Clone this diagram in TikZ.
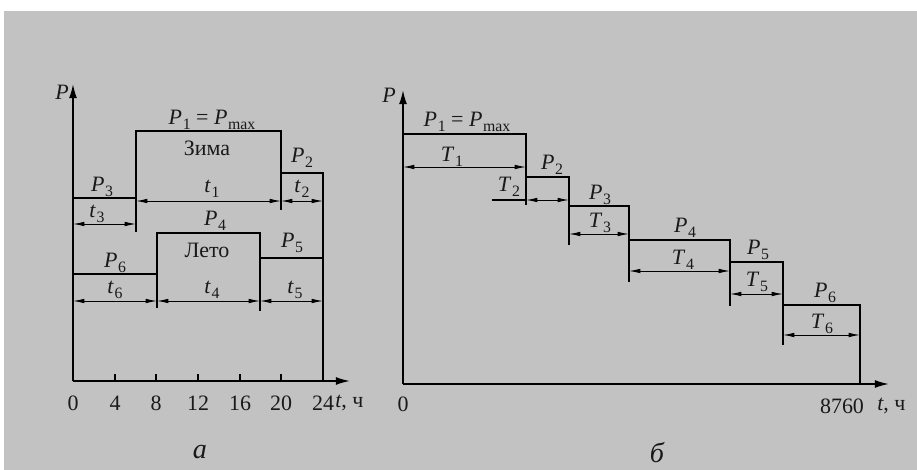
\documentclass[tikz,border=0pt]{standalone}
\usepackage{fontspec}
\setmainfont{Liberation Serif}
\usetikzlibrary{arrows.meta}

\newcommand{\sub}[2]{\textit{#1}\kern0.03em\raisebox{-0.45ex}{\fontsize{9}{9}\selectfont #2}}

\tikzset{
	step line/.style={line width=1.3pt, line cap=rect},
	axis line/.style={line width=0.9pt, -{Latex[length=8pt,width=4.5pt]}},
	dim line/.style={line width=0.5pt, {Latex[length=6.5pt,width=2.6pt]}-{Latex[length=6.5pt,width=2.6pt]}},
	ext line/.style={line width=0.6pt},
	lab/.style={inner sep=0pt, font=\fontsize{12.5}{12.5}\selectfont, text=black!90},
	caption lab/.style={inner sep=0pt, font=\fontsize{16}{16}\selectfont\itshape, text=black!90},
}

\begin{document}
\begin{tikzpicture}[x=0.02cm, y=-0.02cm]
		\useasboundingbox (0,0) rectangle (917,470);
		\fill[white] (0,0) rectangle (917,470);
		\fill[black!24] (4,11) rectangle (917,470);

		% a: daily curves
		\draw[axis line](73,381)--(73,84);
		\draw[axis line](73,381)--(350,381);
		\foreach \x/\t in {73/0, 115/4, 156/8, 198/12, 240/16, 281/20, 323/24}{
			\draw[ext line](\x,381)--(\x,374);
			\node[lab] at (\x,403){\t};
		}
		\node[lab] (Pa) at (62,92){\textit{P}};
		\node[lab, anchor=west] (ta) at (335,403){\textit{t}, ч};
		% winter
		\draw[step line](73,198)--(136,198)--(136,131)--(281,131)--(281,173)--(323,173)--(323,381);
		\draw[ext line](136,198)--(136,232);
		\draw[ext line](281,173)--(281,210);
		\draw[dim line](73,224)--(136,224);
		\draw[dim line](136,201)--(281,201);
		\draw[dim line](281,201)--(323,201);
		\node[lab] (P1a) at (212,120){\sub{P}{1} = \sub{P}{max}};
		\node[lab] (zima) at (207,148){Зима};
		\node[lab] (P2a) at (302,158){\sub{P}{2}};
		\node[lab] (P3a) at (102,187){\sub{P}{3}};
		\node[lab] (t1a) at (212,189){\sub{t}{1}};
		\node[lab] (t2a) at (302,189){\sub{t}{2}};
		\node[lab] (t3a) at (97,214){\sub{t}{3}};
		% summer
		\draw[step line](73,274)--(157,274)--(157,233)--(260,233)--(260,258)--(323,258);
		\draw[ext line](157,274)--(157,308);
		\draw[ext line](260,258)--(260,311);
		\draw[dim line](73,301)--(157,301);
		\draw[dim line](157,301)--(260,301);
		\draw[dim line](260,301)--(323,301);
		\node[lab] (P4a) at (215,221){\sub{P}{4}};
		\node[lab] (leto) at (207,250){Лето};
		\node[lab] (P5a) at (292,243){\sub{P}{5}};
		\node[lab] (P6a) at (115,263){\sub{P}{6}};
		\node[lab] (t6a) at (115,290){\sub{t}{6}};
		\node[lab] (t4a) at (212,290){\sub{t}{4}};
		\node[lab] (t5a) at (295,290){\sub{t}{5}};
		\node[caption lab] (capa) at (200,452){а};

		% b: annual curve
		\draw[axis line](403,384)--(403,90);
		\draw[axis line](403,384)--(889,384);
		\draw[ext line](860,384)--(860,377);
		\node[lab] (Pb) at (389,95){\textit{P}};
		\node[lab] (zero) at (403,404){0};
		\node[lab] (year) at (842,406){8760};
		\node[lab, anchor=west] (tb) at (877,406){\textit{t}, ч};
		\draw[step line](403,134)--(526,134)--(526,177)--(569,177)--(569,206)--(629,206)--(629,240)
			--(730,240)--(730,262)--(783,262)--(783,305)--(860,305)--(860,384);
		\draw[ext line](526,177)--(526,205);
		\draw[ext line](569,206)--(569,245);
		\draw[ext line](629,240)--(629,282);
		\draw[ext line](730,262)--(730,306);
		\draw[ext line](783,305)--(783,345);
		\draw[dim line](403,167)--(526,167);
		\draw[ext line](492,200)--(526,200);
		\draw[dim line](526,200)--(569,200);
		\draw[dim line](569,234)--(629,234);
		\draw[dim line](629,271)--(730,271);
		\draw[dim line](730,294)--(783,294);
		\draw[dim line](783,335)--(860,335);
		\node[lab] (P1b) at (467,122){\sub{P}{1} = \sub{P}{max}};
		\node[lab] (T1b) at (452,157){\sub{T}{1}};
		\node[lab] (P2b) at (552,165){\sub{P}{2}};
		\node[lab] (T2b) at (509,187){\sub{T}{2}};
		\node[lab] (P3b) at (600,195){\sub{P}{3}};
		\node[lab] (T3b) at (600,223){\sub{T}{3}};
		\node[lab] (P4b) at (685,228){\sub{P}{4}};
		\node[lab] (T4b) at (683,260){\sub{T}{4}};
		\node[lab] (P5b) at (758,250){\sub{P}{5}};
		\node[lab] (T5b) at (757,282){\sub{T}{5}};
		\node[lab] (P6b) at (825,293){\sub{P}{6}};
		\node[lab] (T6b) at (822,324){\sub{T}{6}};
		\node[caption lab] (capb) at (657,453){б};
	\end{tikzpicture}
\end{document}
